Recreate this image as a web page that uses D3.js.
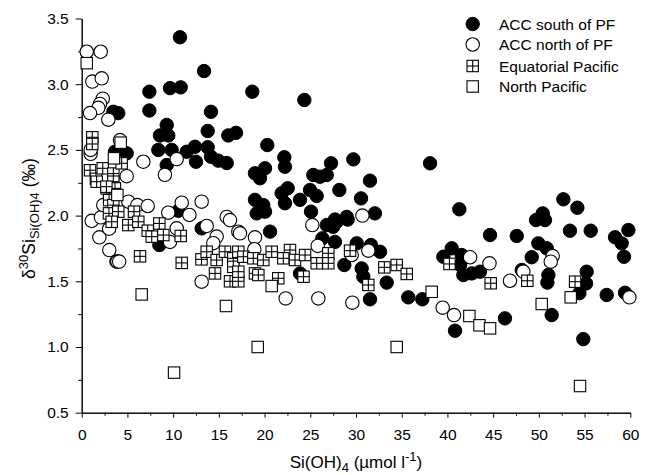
<!DOCTYPE html>
<html><head><meta charset="utf-8">
<script src="https://cdn.jsdelivr.net/npm/d3@7"></script>
<style>
html,body{margin:0;padding:0;background:#fff;}
text{font-family:"Liberation Sans",Arial,sans-serif;fill:#000;}
</style></head>
<body><svg id="c" width="651" height="475"></svg>
<script>
// ---- data ----
const accSouth = [[10.75,3.357],[13.38,3.10],[7.40,2.943],[9.66,2.97],[10.83,2.976],[7.40,2.80],[3.46,2.79],[4.0,2.78],[14.14,2.79],[9.3,2.69],[8.56,2.61],[9.47,2.61],[13.78,2.644],[16.03,2.61],[16.88,2.63],[8.38,2.50],[9.84,2.50],[11.48,2.486],[12.39,2.524],[13.78,2.52],[14.14,2.448],[14.94,2.418],[15.86,2.40],[12.5,2.41],[9.3,2.385],[4.92,2.474],[3.64,2.486],
[3.8,1.65],[10.57,2.037],[13.12,1.903],[8.49,1.776],
[18.66,2.943],[24.35,2.88],[20.3,2.537],[22.16,2.444],[22.23,2.372],[18.95,2.322],[20.05,2.36],[19.5,2.284],[27.27,2.398],[29.71,2.428],[38.1,2.398],[25.33,2.309],[26.07,2.296],[26.8,2.309],[31.53,2.266],[22.53,2.208],[21.87,2.17],[24.97,2.195],[25.7,2.15],[28.18,2.195],[18.95,2.12],[19.86,2.08],[20.05,2.03],[22.23,2.094],[23.88,2.12],[30.55,2.131],[25.08,2.03],[19.14,2.017],[27.7,1.97],[28.98,1.99],[32.07,2.017],
[26.8,1.928],[27.89,1.953],[29.09,1.97],[27.5,1.915],[20.6,1.878],[26.32,1.827],[27.7,1.80],[30.08,1.789],[31.64,1.776],[32.63,1.725],[28.72,1.624],[30.62,1.598],[30.8,1.535],[33.36,1.49],[23.88,1.56],[31.53,1.363],[35.72,1.378],[37.25,1.363],
[41.3,2.048],[52.68,2.124],[54.21,2.06],[50.42,2.017],[49.69,1.966],[50.67,1.966],[44.66,1.852],[47.58,1.845],[53.4,1.885],[55.67,1.885],[58.33,1.835],[59.06,1.789],[59.79,1.89],[59.31,1.687],[40.47,1.751],[39.55,1.687],[41.56,1.70],[41.38,1.624],[41.74,1.548],[42.66,1.56],[43.56,1.573],[49.94,1.789],[50.86,1.751],[49.22,1.683],[48.13,1.586],[51.04,1.548],[50.93,1.49],[55.23,1.573],[55.16,1.484],[54.43,1.41],[57.42,1.396],[59.42,1.413],[46.29,1.218],[51.4,1.243],[40.83,1.124],[54.86,1.06]];

const accNorth = [[0.55,3.247],[2.08,3.247],[1.16,3.02],[2.19,3.045],[2.3,2.89],[2.0,2.85],[1.82,2.82],[0.91,2.78],[2.91,2.73],[4.19,2.575],[0.98,2.47],[0.98,2.50],[6.74,2.41],[10.39,2.43],[9.1,2.31],[4.92,2.30],
[1.09,1.96],[2.1,1.987],[2.36,2.08],[5.1,2.106],[6.08,2.08],[7.22,2.073],[1.93,1.835],[3.02,1.738],[3.9,1.65],[4.1,1.65],[9.47,2.022],[10.94,2.098],[11.78,2.005],[13.12,2.106],[13.67,1.921],[9.66,1.80],[10.39,1.903],[13.12,1.497],[15.86,1.99],[16.22,1.966],[17.13,1.878],[14.76,1.84],[14.39,1.79],[3.0,1.9],
[30.7,2.0],[25.22,1.928],[17.31,1.865],[18.95,1.835],[25.81,1.769],[18.88,1.744],[31.35,1.733],[29.53,1.70],[22.31,1.37],[25.88,1.37],[29.6,1.337],
[42.48,1.683],[44.6,1.637],[51.51,1.692],[51.3,1.649],[48.3,1.573],[46.84,1.504],[59.9,1.378],[39.48,1.299],[40.72,1.243]];

const equatorial = [[1.16,2.596],[1.16,2.545],[0.91,2.345],[1.56,2.28],[2.3,2.36],[3.46,2.32],[3.46,2.258],[4.37,2.398],[2.73,2.207],[3.64,2.207],
[1.64,2.258],[2.7,2.22],[3.0,2.118],[3.46,2.08],[2.98,2.017],[4.0,2.03],[3.28,1.953],[5.72,2.03],[5.1,1.928],[6.19,1.953],[7.22,1.885],[7.66,1.84],[8.49,1.94],[8.93,1.852],[10.83,1.845],[6.38,1.69],[10.94,1.64],[13.1,1.667],[13.67,1.725],[14.76,1.662],[15.67,1.725],[16.58,1.675],[16.58,1.61],[16.22,1.50],[14.58,1.56],[17.13,1.50],
[17.13,1.725],[17.68,1.687],[18.77,1.675],[19.86,1.662],[20.78,1.725],[22.78,1.738],[22.05,1.675],[23.33,1.662],[24.43,1.70],[25.7,1.637],[26.97,1.713],[26.97,1.637],[29.35,1.733],[18.95,1.56],[17.13,1.573],[21.5,1.523],[24.26,1.535],[31.35,1.472],[33.1,1.606],[34.45,1.624],[35.55,1.556],[19.32,1.548],
[40.22,1.632],[44.73,1.485],[48.74,1.504],[53.96,1.497]];

const northPacific = [[0.55,3.16],[4.26,2.555],[3.53,2.436],[3.9,2.157],[6.56,1.40],[15.78,1.312],[10.1,0.805],[20.78,1.464],[38.28,1.42],[19.25,1.0],[34.45,1.0],[42.4,1.236],[43.5,1.165],[44.66,1.142],[50.31,1.327],[53.48,1.378],[54.5,0.703]];

const xTicks = [0,5,10,15,20,25,30,35,40,45,50,55,60];
const xMinor = [2.5,7.5,12.5,17.5,22.5,27.5,32.5,37.5,42.5,47.5,52.5,57.5];
const yTicks = [0.5,1.0,1.5,2.0,2.5,3.0,3.5];
const yMinor = [0.75,1.25,1.75,2.25,2.75,3.25];
const legendLabels = ["ACC south of PF","ACC north of PF","Equatorial Pacific","North Pacific"];

// ---- chart ----
const svg = d3.select("#c");
const x = d3.scaleLinear().domain([0,60]).range([81.7,630.3]);
const y = d3.scaleLinear().domain([0.5,3.5]).range([412.7,18.5]);
const FS = 15.5;

function styleAxis(g){
  g.select(".domain").attr("stroke","#000").attr("stroke-width",1);
  g.selectAll(".tick line").attr("stroke","#000").attr("stroke-width",1);
  g.selectAll(".tick text").style("font-size",FS+"px").style("font-family",'"Liberation Sans",Arial,sans-serif').attr("fill","#000");
}
const gxm = svg.append("g").attr("transform","translate(0,412.7)")
  .call(d3.axisBottom(x).tickValues(xMinor).tickSize(3).tickFormat("").tickSizeOuter(0));
styleAxis(gxm);
const gx = svg.append("g").attr("transform","translate(0,412.7)")
  .call(d3.axisBottom(x).tickValues(xTicks).tickSize(5).tickPadding(11).tickSizeOuter(0).tickFormat(d3.format("d")));
styleAxis(gx);
const gym = svg.append("g").attr("transform","translate(81.7,0)")
  .call(d3.axisLeft(y).tickValues(yMinor).tickSize(3.5).tickFormat("").tickSizeOuter(0));
styleAxis(gym);
const gy = svg.append("g").attr("transform","translate(81.7,0)")
  .call(d3.axisLeft(y).tickValues(yTicks).tickSize(6).tickPadding(7).tickSizeOuter(0).tickFormat(d3.format(".1f")));
styleAxis(gy);

// markers
const R = 6.7, S = 11.4;
function drawFilled(g, cx, cy){ g.append("circle").attr("cx",cx).attr("cy",cy).attr("r",R).attr("fill","#000").attr("stroke","#000").attr("stroke-width",1); }
function drawOpen(g, cx, cy){ g.append("circle").attr("cx",cx).attr("cy",cy).attr("r",R).attr("fill","#fff").attr("stroke","#000").attr("stroke-width",1.1); }
function drawSquare(g, cx, cy){ g.append("rect").attr("x",cx-S/2).attr("y",cy-S/2).attr("width",S).attr("height",S).attr("fill","#fff").attr("stroke","#000").attr("stroke-width",1.1); }
function drawGrid(g, cx, cy){
  drawSquare(g,cx,cy);
  g.append("line").attr("x1",cx).attr("x2",cx).attr("y1",cy-S/2).attr("y2",cy+S/2).attr("stroke","#000").attr("stroke-width",1.1);
  g.append("line").attr("x1",cx-S/2).attr("x2",cx+S/2).attr("y1",cy).attr("y2",cy).attr("stroke","#000").attr("stroke-width",1.1);
}
const series = [[accSouth,drawFilled],[accNorth,drawOpen],[equatorial,drawGrid],[northPacific,drawSquare]];
const pts = svg.append("g");
series.forEach(([data,fn])=>{
  data.forEach(d=>{ fn(pts.append("g"), x(d[0]), y(d[1])); });
});

// legend
const lg = svg.append("g");
const ly = [24,44.5,66,86.5];
series.forEach(([data,fn],i)=>{
  fn(lg.append("g"), 472.7, ly[i]);
  lg.append("text").attr("x",499).attr("y",ly[i]+5.5).style("font-size",FS+"px").text(legendLabels[i]);
});

// x title
const xt = svg.append("text").attr("x",356).attr("y",468).attr("text-anchor","middle").style("font-size","17px");
xt.append("tspan").text("Si(OH)");
xt.append("tspan").attr("dy",4).style("font-size","13px").text("4");
xt.append("tspan").attr("dy",-4).text(" (µmol l");
xt.append("tspan").attr("dy",-7).style("font-size","13px").text("-1");
xt.append("tspan").attr("dy",7).text(")");

// y title
const yt = svg.append("text").attr("transform","translate(35,218.5) rotate(-90)").attr("text-anchor","middle").style("font-size","17.5px");
yt.append("tspan").text("δ");
yt.append("tspan").attr("dy",-7).style("font-size","13px").text("30");
yt.append("tspan").attr("dy",7).text("Si");
yt.append("tspan").attr("dy",4).style("font-size","13px").text("Si(OH)4");
yt.append("tspan").attr("dy",-4).text(" (‰)");
</script></body></html>
